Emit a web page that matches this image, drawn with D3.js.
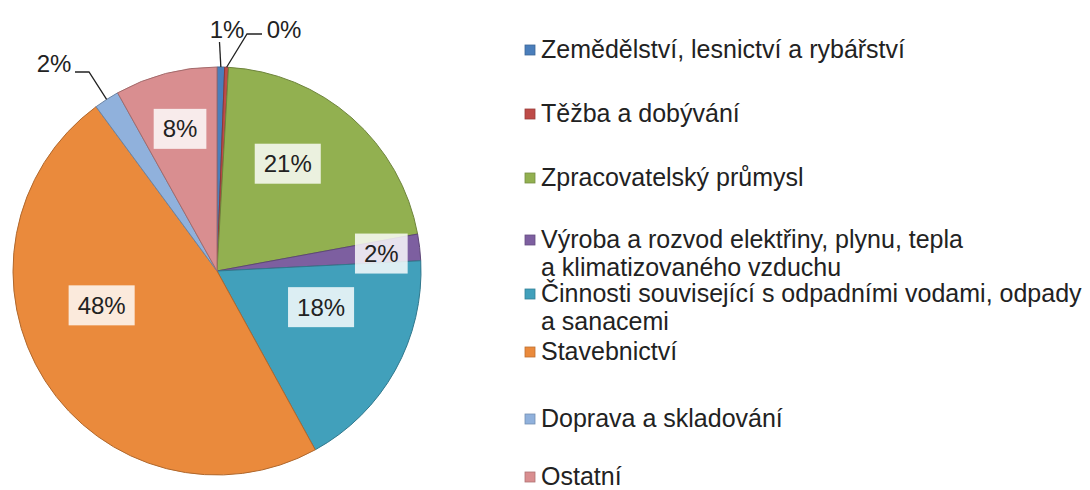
<!DOCTYPE html>
<html>
<head>
<meta charset="utf-8">
<script src="https://cdn.jsdelivr.net/npm/d3@7/dist/d3.min.js"></script>
<style>
  html, body { margin: 0; padding: 0; background: #fff; }
  svg { display: block; }
  text { font-family: "Liberation Sans", Arial, sans-serif; fill: #222; }
</style>
</head>
<body>
<svg id="chart" width="1090" height="490"></svg>
<script>
// ---- data ----
const categories = [
  "Zemědělství, lesnictví a rybářství",
  "Těžba a dobývání",
  "Zpracovatelský průmysl",
  "Výroba a rozvod elektřiny, plynu, tepla\na klimatizovaného vzduchu",
  "Činnosti související s odpadními vodami, odpady\na sanacemi",
  "Stavebnictví",
  "Doprava a skladování",
  "Ostatní"
];
const values = [0.6, 0.3, 21.2, 2.1, 17.8, 47.9, 2.0, 8.1];
const percentLabels = ["1%", "0%", "21%", "2%", "18%", "48%", "2%", "8%"];
const colors = ["#4a7ebb", "#be4b48", "#92b050", "#7d5fa0", "#41a0bb", "#ea8a3c", "#90b1dc", "#d98e90"];

// ---- layout (not data) ----
const cx = 217, cy = 271, R = 204;
// inside labels: radius fraction and angular shift (degrees) relative to slice mid-angle
const insideLabel = {2: [0.63, -8], 3: [0.81, 0.6], 4: [0.54, -10], 5: [0.59, 16], 7: [0.72, 0]};
// outside labels: leader elbow points and text position
const outsideLabel = {
  0: {pts: [[219.5, 42]], tx: 227, ty: 38},
  1: {pts: [[247, 34], [262, 34]], tx: 284, ty: 38},
  6: {pts: [[89, 72], [75, 72]], tx: 54, ty: 72}
};
const legendX = 525, legendTextX = 541;
const legendY = [50, 114, 178, 240, 294, 352, 419, 477];
const legendLineH = 28;

const svg = d3.select("#chart");
const g = svg.append("g").attr("transform", `translate(${cx},${cy})`);

const pie = d3.pie().sort(null).value(d => d)(values);
const arc = d3.arc().innerRadius(0).outerRadius(R);

g.selectAll("path.slice")
  .data(pie)
  .join("path")
  .attr("class", "slice")
  .attr("d", arc)
  .attr("fill", (d, i) => colors[i])
  .attr("stroke", (d, i) => d3.color(colors[i]).darker(0.8))
  .attr("stroke-width", 1);

// inside labels
pie.forEach((d, i) => {
  if (!(i in insideLabel)) return;
  const [rf, shift] = insideLabel[i];
  const a = (d.startAngle + d.endAngle) / 2 + shift * Math.PI / 180;
  const x = Math.sin(a) * R * rf, y = -Math.cos(a) * R * rf;
  const lg = g.append("g").attr("transform", `translate(${x},${y})`);
  const t = lg.append("text")
    .attr("text-anchor", "middle")
    .attr("dy", "0.35em")
    .style("font-size", "24px")
    .text(percentLabels[i]);
  const w = t.node().getComputedTextLength();
  lg.insert("rect", "text")
    .attr("x", -w / 2 - 9).attr("y", -20)
    .attr("width", w + 18).attr("height", 40)
    .attr("fill", "#fff").attr("fill-opacity", 0.82);
});

// outside labels with leader lines
pie.forEach((d, i) => {
  if (!(i in outsideLabel)) return;
  const o = outsideLabel[i];
  const a = (d.startAngle + d.endAngle) / 2;
  const start = [cx + Math.sin(a) * R, cy - Math.cos(a) * R];
  const pts = [start].concat(o.pts);
  svg.append("path")
    .attr("d", d3.line()(pts))
    .attr("fill", "none").attr("stroke", "#222").attr("stroke-width", 1.3);
  svg.append("text")
    .attr("x", o.tx).attr("y", o.ty)
    .attr("text-anchor", "middle")
    .style("font-size", "24px")
    .text(percentLabels[i]);
});

// legend
categories.forEach((c, i) => {
  const y = legendY[i];
  svg.append("rect")
    .attr("x", legendX).attr("y", y - 5)
    .attr("width", 10).attr("height", 10)
    .attr("fill", colors[i])
    .attr("stroke", d3.color(colors[i]).darker(0.6)).attr("stroke-width", 0.8);
  const lines = c.split("\n");
  const t = svg.append("text").style("font-size", "25px");
  lines.forEach((ln, j) => {
    t.append("tspan").attr("x", legendTextX).attr("y", y + 8 + j * legendLineH).text(ln);
  });
});
</script>
</body>
</html>
